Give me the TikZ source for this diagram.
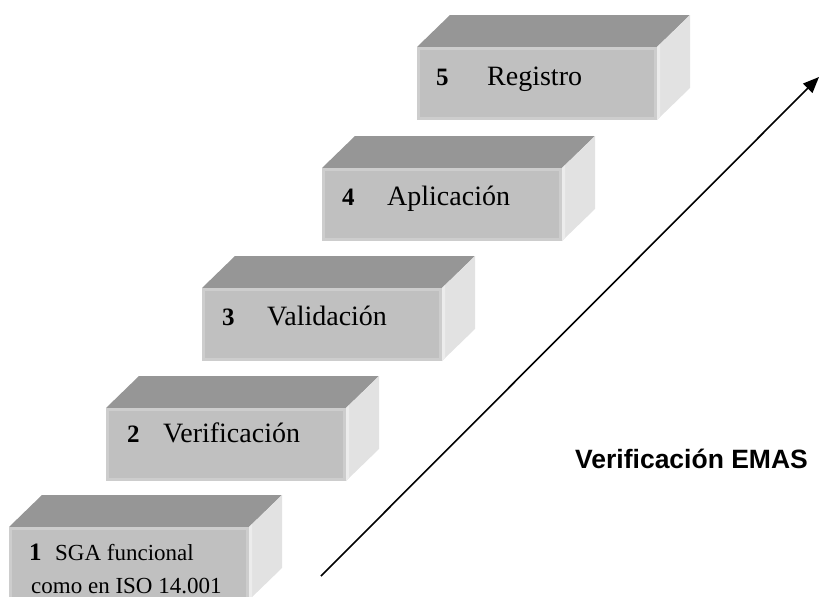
\documentclass[tikz,border=0pt]{standalone}
\usepackage{fontspec}
\setmainfont{Liberation Serif}
\newfontfamily\labelsans{Liberation Sans}
\usetikzlibrary{arrows.meta}
\definecolor{topgray}{HTML}{969696}
\definecolor{frontgray}{HTML}{C0C0C0}
\definecolor{frontedge}{HTML}{CDCDCD}
\definecolor{sidegray}{HTML}{E2E2E2}
\definecolor{sideedge}{HTML}{ECECEC}
\tikzset{
  topface/.style={fill=topgray},
  sideface/.style={fill=sidegray},
  frontface/.style={fill=frontedge, minimum width=240pt, minimum height=73pt,
    inner sep=0pt, outer sep=0pt, anchor=north west},
  num/.style={anchor=base west, inner sep=0pt, font=\bfseries\fontsize{25}{29}\selectfont},
  word/.style={anchor=base west, inner sep=0pt, font=\fontsize{28}{32}\selectfont},
  small/.style={anchor=base west, inner sep=0pt, font=\fontsize{23}{27}\selectfont},
}
% one step block: front face at (#1,#2), name #3
\newcommand{\stepblock}[3]{%
  \fill[topface] (#1,#2) -- ++(33,-32) -- ++(240,0) -- ++(-33,32) -- cycle;
  \fill[sideface] (#1+240,#2) -- ++(33,-32) -- ++(0,73) -- ++(-33,32) -- cycle;
  \fill[sideedge] (#1+240,#2) -- ++(3,-3) -- ++(0,73) -- ++(-3,3) -- cycle;
  \node[frontface] (#3) at (#1,#2) {};
  \fill[frontgray] (#1+3,#2+3) rectangle (#1+237,#2+70);
}
\begin{document}
\begin{tikzpicture}[x=1pt,y=-1pt]
\useasboundingbox (0,0) rectangle (820,597);
\begin{scope}
\clip (0,0) rectangle (820,597);
\stepblock{9}{527}{b1}
\stepblock{106}{408}{b2}
\stepblock{202}{288}{b3}
\stepblock{322}{168}{b4}
\stepblock{417}{47}{b5}

\node[num] (n1) at (29,560) {1};
\node[small] (t1) at (55,560) {SGA funcional};
\node[small] (t1b) at (31,593) {como en ISO 14.001};

\node[num] (n2) at (127,442) {2};
\node[word] (t2) at (163,442) {Verificación};
\node[num] (n3) at (222,325) {3};
\node[word] (t3) at (267,325) {Validación};
\node[num] (n4) at (342,205) {4};
\node[word] (t4) at (387,205) {Aplicación};
\node[num] (n5) at (436,85) {5};
\node[word] (t5) at (487,85) {Registro};
\end{scope}

\coordinate (a0) at (321,576);
\coordinate (a1) at (819,77);
\draw[line width=1.6pt, -{Triangle[length=16pt,width=13pt]}] (a0) -- (a1);

\node[anchor=base west, inner sep=0pt, font=\labelsans\bfseries\fontsize{26.5}{31}\selectfont] (emas) at (575,468) {Verificación EMAS};
\end{tikzpicture}
\end{document}
